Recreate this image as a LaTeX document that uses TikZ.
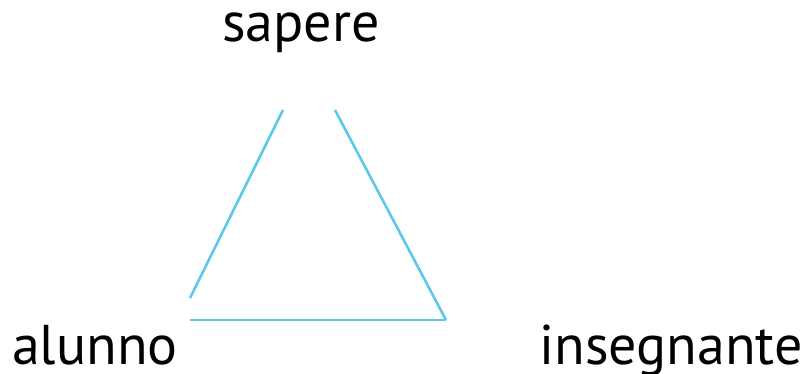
\documentclass[tikz,border=0pt]{standalone}
\usepackage{fontspec}
\setmainfont{PT Sans}
\usepackage{xcolor}
\usepackage{tikz}
\usetikzlibrary{positioning}
\definecolor{lineblue}{RGB}{91, 200, 236}

\begin{document}
\begin{tikzpicture}[x=1pt, y=1pt,
   lbl/.style={font=\fontsize{56}{56}\selectfont, inner sep=0pt, anchor=base},
   edge/.style={draw=lineblue, line width=2.6pt}]
  \useasboundingbox (0,0) rectangle (805,374);
  \node[lbl] (sapere) at (301,332) {sapere};
  \node[lbl] (alunno) at (95,9) {alunno};
  \node[lbl] (insegnante) at (671,9) {insegnante};
  % triangle sides
  \coordinate (st) at (283,264); \coordinate (sb) at (190,76);
  \coordinate (rt) at (335,264); \coordinate (rb) at (446,54);
  \coordinate (bl) at (190,54);
  \draw[edge] (st) -- (sb);
  \draw[edge] (rt) -- (rb);
  \draw[edge] (bl) -- (rb);
\end{tikzpicture}
\end{document}
